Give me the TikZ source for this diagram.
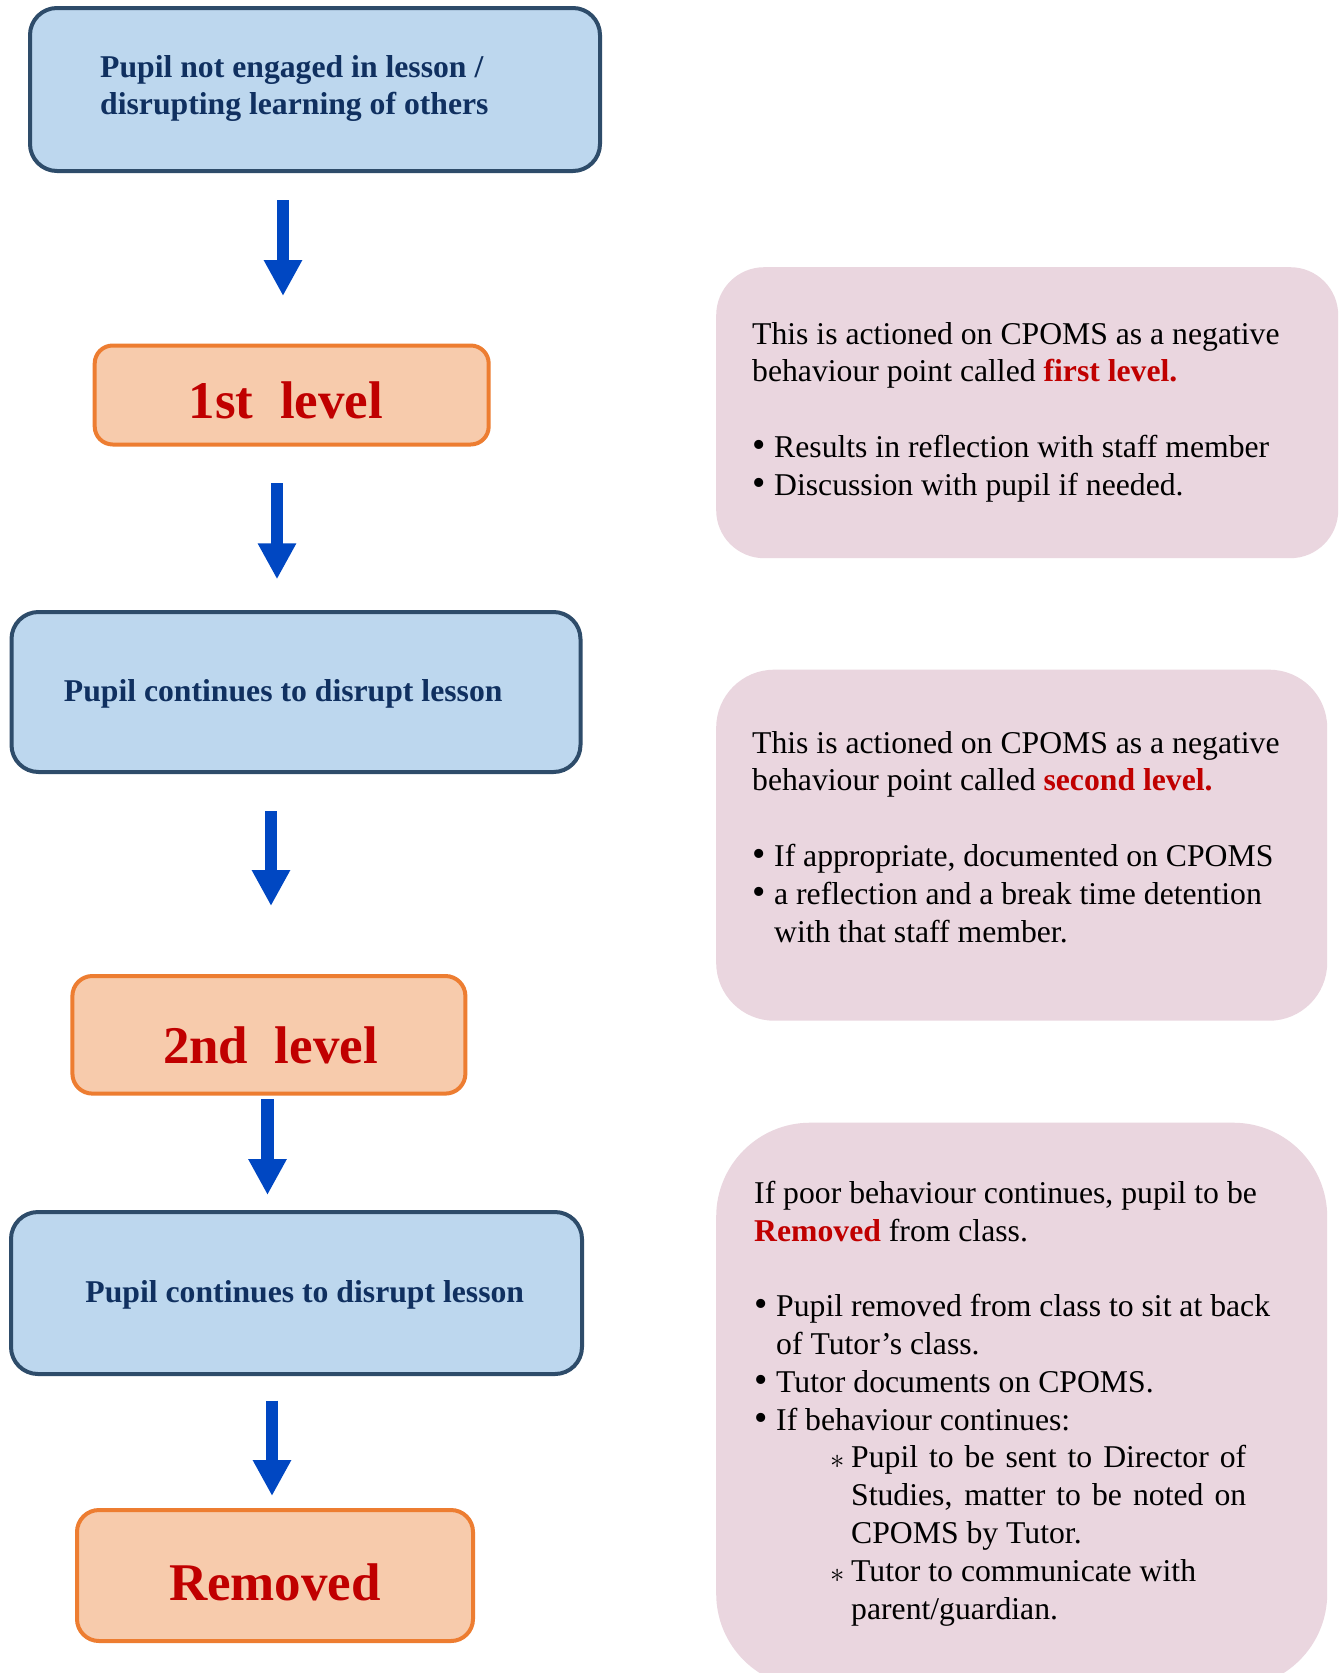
\documentclass[tikz,border=0pt]{standalone}
\usepackage{fontspec}
\setmainfont{Liberation Serif}
\usetikzlibrary{arrows.meta}
\definecolor{bluefill}{RGB}{189,215,238}
\definecolor{blueline}{RGB}{46,76,106}
\definecolor{bluetext}{RGB}{16,48,96}
\definecolor{orfill}{RGB}{247,203,172}
\definecolor{orline}{RGB}{237,125,49}
\definecolor{redtext}{RGB}{192,0,0}
\definecolor{pinkfill}{RGB}{234,214,223}
\definecolor{arrblue}{RGB}{0,71,194}
\newcommand{\rows}[1]{\begin{tabular}[t]{@{}l@{}}#1\end{tabular}}
\newcommand{\bul}{\makebox[22pt][l]{\scalebox{1.2}{\textbullet}}}
\newcommand{\ind}{\hspace*{22pt}}
\newcommand{\sub}{\hspace*{76pt}\makebox[21pt][l]{\raisebox{-1pt}{\scalebox{1.15}{$\ast$}}}}
\newcommand{\subind}{\hspace*{97pt}}
\newcommand{\red}[1]{\textcolor{redtext}{\bfseries #1}}
\begin{document}
\begin{tikzpicture}[x=1pt,y=-1pt,
  bluebox/.style={draw=blueline, line width=4pt, fill=bluefill, rounded corners=27pt, inner sep=0pt},
  orbox/.style={draw=orline, line width=4pt, fill=orfill, rounded corners=18pt, inner sep=0pt},
  pinkbox/.style={fill=pinkfill, draw=none, inner sep=0pt, anchor=north west},
  btext/.style={text=bluetext, font=\fontsize{31.7}{37}\selectfont\bfseries, inner sep=0pt},
  bigtext/.style={text=redtext, font=\fontsize{53}{60}\selectfont\bfseries, inner sep=0pt, anchor=base},
  ptext/.style={inner sep=0pt, anchor=base west, font=\fontsize{31.7}{37.8}\selectfont},
  arr/.style={draw=arrblue, line width=12.6pt, -{Triangle[length=36pt,width=36pt]}}]
\useasboundingbox (0,0) rectangle (1341,1673);
\clip (0,0) rectangle (1341,1673);
\fill[white] (0,0) rectangle (1341,1673);

% left column boxes
\node[bluebox, minimum width=570pt, minimum height=163pt] (b1) at (315,89.5) {};
\node[btext, anchor=base west, align=left] (b1t) at (100,77.3) {\rows{Pupil not engaged in lesson /\\disrupting learning of others}};

\node[orbox, minimum width=394pt, minimum height=99pt] (o1) at (291.7,395) {};
\node[bigtext] (o1t) at (286,418.3) {1st\ \ level};

\node[bluebox, minimum width=569pt, minimum height=160pt] (b2) at (296,692) {};
\node[btext, anchor=base] (b2t) at (283.2,701) {Pupil continues to disrupt lesson};

\node[orbox, minimum width=393pt, minimum height=117.6pt, rounded corners=20pt] (o2) at (268.9,1034.8) {};
\node[bigtext] (o2t) at (270.5,1063.6) {2nd\ \ level};

\node[bluebox, minimum width=571pt, minimum height=162pt] (b3) at (296.5,1293) {};
\node[btext, anchor=base] (b3t) at (304.8,1302) {Pupil continues to disrupt lesson};

\node[orbox, minimum width=396pt, minimum height=131pt, rounded corners=22pt] (o3) at (275,1575.5) {};
\node[bigtext] (o3t) at (275,1600.5) {Removed};

% arrows
\coordinate (a1s) at (283,200);   \coordinate (a1e) at (283,296);
\coordinate (a2s) at (277,483.3); \coordinate (a2e) at (277,579.3);
\coordinate (a3s) at (271,811);   \coordinate (a3e) at (271,906);
\coordinate (a4s) at (267.5,1099);\coordinate (a4e) at (267.5,1195);
\coordinate (a5s) at (272,1400.5);\coordinate (a5e) at (272,1496);
\draw[arr] (a1s) -- (a1e);
\draw[arr] (a2s) -- (a2e);
\draw[arr] (a3s) -- (a3e);
\draw[arr] (a4s) -- (a4e);
\draw[arr] (a5s) -- (a5e);

% right column
\node[pinkbox, minimum width=622pt, minimum height=291pt, rounded corners=48pt] (p1) at (716,267) {};
\node[ptext] (p1t) at (752,344) {\rows{This is actioned on CPOMS as a negative\\
behaviour point called \red{first level.}\\[37.8pt]
\bul Results in reflection with staff member\\
\bul Discussion with pupil if needed.}};

\node[pinkbox, minimum width=611pt, minimum height=351pt, rounded corners=58pt] (p2) at (716,669.5) {};
\node[ptext] (p2t) at (752,753) {\rows{This is actioned on CPOMS as a negative\\
behaviour point called \red{second level.}\\[37.8pt]
\bul If appropriate, documented on CPOMS\\
\bul a reflection and a break time detention\\
\ind with that staff member.}};

\node[pinkbox, minimum width=611pt, minimum height=565pt, rounded corners=94pt] (p3) at (716,1122.5) {};
\node[ptext] (p3t) at (754,1203.3) {\rows{If poor behaviour continues, pupil to be\\
\red{Removed} from class.\\[37.8pt]
\bul Pupil removed from class to sit at back\\
\ind of Tutor’s class.\\
\bul Tutor documents on CPOMS.\\
\bul If behaviour continues:\\
\sub\makebox[395pt][s]{Pupil to be sent to Director of}\\
\subind\makebox[395pt][s]{Studies, matter to be noted on}\\
\subind CPOMS by Tutor.\\
\sub Tutor to communicate with\\
\subind parent/guardian.}};
\end{tikzpicture}
\end{document}
